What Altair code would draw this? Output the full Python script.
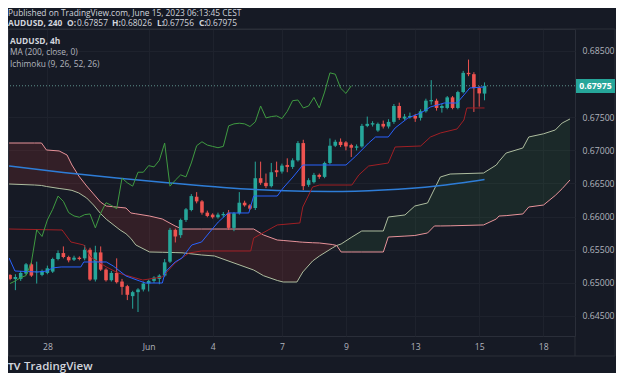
import altair as alt
import pandas as pd

# ---------------- data ----------------
opens = [
    0.6512, 0.6506, 0.6506, 0.6514, 0.6528, 0.6516, 0.6512, 0.6515, 0.6517, 0.6536,
    0.6545, 0.6539, 0.6535, 0.6538, 0.6537, 0.6550, 0.6505, 0.6546, 0.6520, 0.6504,
    0.6515, 0.6502, 0.6495, 0.6480, 0.6486, 0.6490, 0.6499, 0.6503, 0.6506, 0.6511,
    0.6532, 0.6580, 0.6572, 0.6595, 0.6610, 0.6630, 0.6623, 0.6606, 0.6603, 0.6599,
    0.6602, 0.6606, 0.6583, 0.6605, 0.6621, 0.6617, 0.6613, 0.6658, 0.6651, 0.6646,
    0.6670, 0.6668, 0.6678, 0.6675, 0.6685, 0.6711, 0.6648, 0.6652, 0.6663, 0.6660,
    0.6681, 0.6707, 0.6713, 0.6712, 0.6708, 0.6704, 0.6706, 0.6737, 0.6739, 0.6730,
    0.6740, 0.6736, 0.6743, 0.6767, 0.6748, 0.6750, 0.6752, 0.6749, 0.6759, 0.6774,
    0.6775, 0.6764, 0.6764, 0.6780, 0.6764, 0.6788, 0.6817, 0.6815, 0.6794, 0.67857,
]
highs = [
    0.6513, 0.6513, 0.6518, 0.6530, 0.6531, 0.6532, 0.6520, 0.6526, 0.6538, 0.6549,
    0.6555, 0.6541, 0.6541, 0.6540, 0.6557, 0.6553, 0.6556, 0.6555, 0.6522, 0.6518,
    0.6537, 0.6506, 0.6497, 0.6488, 0.6492, 0.6502, 0.6505, 0.6510, 0.6513, 0.6536,
    0.6583, 0.6582, 0.6597, 0.6613, 0.6634, 0.6637, 0.6625, 0.6609, 0.6605, 0.6606,
    0.6607, 0.6610, 0.6607, 0.6637, 0.6624, 0.6619, 0.6683, 0.6683, 0.6665, 0.6681,
    0.6683, 0.6680, 0.6688, 0.6688, 0.6714, 0.6716, 0.6658, 0.6666, 0.6665, 0.6683,
    0.6718, 0.6716, 0.6718, 0.6714, 0.6710, 0.6709, 0.6740, 0.6751, 0.6744, 0.6742,
    0.6745, 0.6747, 0.6770, 0.6772, 0.6755, 0.6757, 0.6755, 0.6762, 0.6778, 0.6806,
    0.6778, 0.6770, 0.6782, 0.6782, 0.6790, 0.6820, 0.6837, 0.6818, 0.6797, 0.68026,
]
lows = [
    0.6504, 0.6489, 0.6503, 0.6512, 0.6509, 0.6499, 0.6510, 0.6513, 0.6515, 0.6534,
    0.6537, 0.6531, 0.6533, 0.6534, 0.6534, 0.6503, 0.6502, 0.6518, 0.6502, 0.6502,
    0.6499, 0.6482, 0.6474, 0.6461, 0.6456, 0.6487, 0.6487, 0.6500, 0.6498, 0.6509,
    0.6530, 0.6561, 0.6568, 0.6592, 0.6608, 0.6620, 0.6603, 0.6599, 0.6597, 0.6597,
    0.6599, 0.6580, 0.6578, 0.6603, 0.6615, 0.6610, 0.6610, 0.6648, 0.6643, 0.6644,
    0.6660, 0.6665, 0.6667, 0.6672, 0.6683, 0.6640, 0.6645, 0.6650, 0.6657, 0.6658,
    0.6679, 0.6705, 0.6705, 0.6700, 0.6690, 0.6700, 0.6704, 0.6735, 0.6736, 0.6728,
    0.6733, 0.6733, 0.6740, 0.6746, 0.6746, 0.6748, 0.6743, 0.6745, 0.6757, 0.6769,
    0.6760, 0.6757, 0.6762, 0.6762, 0.6762, 0.6786, 0.6812, 0.6758, 0.6766, 0.67756,
]
closes = [
    0.6506, 0.6509, 0.6515, 0.6528, 0.6511, 0.6517, 0.6518, 0.6522, 0.6536, 0.6545,
    0.6539, 0.6534, 0.6538, 0.6536, 0.6550, 0.6505, 0.6546, 0.6520, 0.6504, 0.6515,
    0.6501, 0.6494, 0.6482, 0.6486, 0.6490, 0.6499, 0.6503, 0.6508, 0.6511, 0.6531,
    0.6580, 0.6570, 0.6595, 0.6611, 0.6631, 0.6623, 0.6606, 0.6601, 0.6599, 0.6603,
    0.6604, 0.6583, 0.6605, 0.6621, 0.6617, 0.6612, 0.6658, 0.6651, 0.6646, 0.6667,
    0.6667, 0.6677, 0.6675, 0.6685, 0.6711, 0.6646, 0.6655, 0.6663, 0.6660, 0.6681,
    0.6707, 0.6713, 0.6708, 0.6706, 0.6704, 0.6706, 0.6737, 0.6740, 0.6741, 0.6740,
    0.6736, 0.6743, 0.6767, 0.6749, 0.6751, 0.6752, 0.6748, 0.6759, 0.6775, 0.6776,
    0.6764, 0.6767, 0.6780, 0.6764, 0.6788, 0.6817, 0.6815, 0.6794, 0.6786, 0.67975,
]

ma_idx = [-0.18, 10, 20, 30, 40, 50, 60, 70, 80, 89]
ma_val = [0.66764, 0.66666, 0.66583, 0.66508, 0.66440, 0.66394, 0.66379, 0.66402, 0.66462, 0.66560]

tenkan_idx = [-0.18, 0.92, 5.16, 7.0, 7.92, 9.58, 13.27, 13.82, 18.06, 19.35, 21.74, 24.32,
              25.43, 28.56, 29.11, 30.96, 32.25, 34.09, 35.93, 37.78, 39.06, 40.91, 44.78,
              45.70, 50.12, 51.23, 53.07, 54.91, 63.02, 64.86, 67.26, 68.55, 70.94, 72.23,
              74.63, 77.02, 78.86, 81.44, 83.84, 85.13, 86.24, 89.0]
tenkan_val = [0.65376, 0.65179, 0.65164, 0.65179, 0.65225, 0.65240, 0.65240, 0.65315, 0.65315,
              0.65255, 0.65104, 0.65028, 0.64998, 0.64998, 0.65164, 0.65315, 0.65376, 0.65572,
              0.65617, 0.65798, 0.65919, 0.66055, 0.66055, 0.66311, 0.66311, 0.66432, 0.66598,
              0.66779, 0.66779, 0.66915, 0.67111, 0.67202, 0.67202, 0.67338, 0.67489, 0.67564,
              0.67655, 0.67715, 0.67715, 0.67836, 0.67942, 0.67957]

kijun_idx = [-0.18, 9.77, 11.42, 13.82, 15.11, 18.06, 20.27, 24.88, 28.56, 30.96, 33.54, 35.93,
             45.14, 45.70, 50.12, 54.36, 54.91, 56.75, 58.04, 64.12, 65.41, 67.26, 70.94, 72.23,
             77.02, 78.86, 80.71, 83.84, 85.13, 85.68, 89.0]
kijun_val = [0.65813, 0.65798, 0.65617, 0.65572, 0.65391, 0.65240, 0.65149, 0.65043, 0.65089,
             0.65300, 0.65451, 0.65481, 0.65481, 0.65677, 0.65874, 0.65904, 0.66145, 0.66447,
             0.66477, 0.66477, 0.66628, 0.66764, 0.66809, 0.67051, 0.67066, 0.67202, 0.67262,
             0.67323, 0.67458, 0.67640, 0.67640]

cloud_idx = [-0.18, 4.61, 5.90, 6.82, 9.21, 10.69, 11.61, 12.90, 14.37, 15.66, 16.95, 18.06,
             20.64, 21.74, 22.66, 23.59, 26.17, 28.56, 30.96, 32.25, 35.93, 38.33, 42.01, 45.70,
             47.54, 50.12, 51.23, 53.81, 54.36, 54.91, 56.75, 58.04, 60.44, 61.27, 62.10, 64.12,
             65.97, 70.02, 70.94, 74.07, 75.92, 78.31, 79.60, 80.71, 82.55, 88.81, 91.21, 91.71,
             93.05, 96.19, 97.29, 100.06, 102.27, 103.56, 105.03]
span_a = [0.66492, 0.66477, 0.66470, 0.66455, 0.66425, 0.66409, 0.66396, 0.66357, 0.66281,
          0.66175, 0.66049, 0.65960, 0.65798, 0.65742, 0.65671, 0.65572, 0.65466, 0.65462,
          0.65457, 0.65454, 0.65421, 0.65406, 0.65300, 0.65194, 0.65108, 0.65036, 0.65013,
          0.65013, 0.65089, 0.65164, 0.65330, 0.65406, 0.65526, 0.65564, 0.65587, 0.65692,
          0.65783, 0.65783, 0.65994, 0.66025, 0.66160, 0.66206, 0.66417, 0.66598, 0.66643,
          0.66658, 0.66779, 0.66834, 0.66960, 0.67036, 0.67202, 0.67250, 0.67308, 0.67413,
          0.67474]
span_b = [0.67111, 0.67111, 0.67111, 0.67006, 0.66991, 0.66930, 0.66779, 0.66613, 0.66462,
          0.66342, 0.66221, 0.66160, 0.66139, 0.66130, 0.66055, 0.66043, 0.66009, 0.65964,
          0.65859, 0.65813, 0.65813, 0.65813, 0.65813, 0.65813, 0.65723, 0.65647, 0.65640,
          0.65622, 0.65617, 0.65614, 0.65606, 0.65602, 0.65579, 0.65564, 0.65466, 0.65466,
          0.65466, 0.65466, 0.65692, 0.65706, 0.65715, 0.65753, 0.65859, 0.65859, 0.65861,
          0.65874, 0.65964, 0.66009, 0.66015, 0.66040, 0.66145, 0.66175, 0.66320, 0.66422,
          0.66553]
cloud_cross = 61.27
chikou_shift = 25

x_tick_pos = [7, 26, 38, 51, 63, 76, 88, 100]
x_tick_labels = ["28", "Jun", "4", "7", "9", "13", "15", "18"]
y_ticks = [0.645, 0.650, 0.655, 0.660, 0.665, 0.670, 0.675, 0.685]
last_price = 0.67975

header_1 = "Published on TradingView.com, June 15, 2023 06:13:45 CEST"
header_2 = [("AUDUSD, 240", 700), ("O:", 700), ("0.67857", 400),
            ("H:", 700), ("0.68026", 400), ("L:", 700), ("0.67756", 400),
            ("C:", 700), ("0.67975", 400)]
legend_lines = [("AUDUSD, 4h", 700), ("MA (200, close, 0)", 400),
                ("Ichimoku (9, 26, 52, 26)", 400)]

# ---------------- tables ----------------
n = len(closes)
candles = pd.DataFrame({"i": list(range(n)), "o": opens, "h": highs, "l": lows, "c": closes})
candles["dir"] = ["up" if c >= o else "down" for o, c in zip(opens, closes)]
ma_df = pd.DataFrame({"i": ma_idx, "p": ma_val})
tenkan_df = pd.DataFrame({"i": tenkan_idx, "p": tenkan_val})
kijun_df = pd.DataFrame({"i": kijun_idx, "p": kijun_val})
chikou_df = pd.DataFrame({"i": list(range(n - chikou_shift)), "p": closes[chikou_shift:]})
cloud_df = pd.DataFrame({"i": cloud_idx, "a": span_a, "b": span_b})
red_df = cloud_df[cloud_df["i"] <= cloud_cross]
green_df = cloud_df[cloud_df["i"] >= cloud_cross]
last_df = pd.DataFrame({"p": [last_price]})
one = pd.DataFrame({"k": [0]})

# ---------------- style ----------------
BG = "#161a25"
GRID = "#1e222d"
FRAME = "#2a2e39"
TXT = "#b2b5be"
TXT2 = "#d1d4dc"
UP = "#26a69a"
DOWN = "#ef5350"
FONT = "Open Sans"

xscale = alt.Scale(domain=[0.553, 105.03], nice=False, zero=False)
yscale = alt.Scale(domain=[0.64198, 0.68832], nice=False, zero=False)
label_expr = " : ".join(f"datum.value == {v} ? '{t}'" for v, t in zip(x_tick_pos, x_tick_labels)) + " : ''"
xaxis = alt.Axis(values=x_tick_pos, labelExpr=label_expr, grid=True, gridColor=GRID, domain=False,
                 ticks=False, tickSize=0, labelColor=TXT, labelFont=FONT, labelFontSize=8.6,
                 labelPadding=10, labelBaseline="middle", labelOverlap=False, title=None)
yaxis = alt.Axis(orient="right", values=y_ticks, format=".5f", grid=True, gridColor=GRID,
                 domain=False, ticks=False, tickSize=0, labelColor=TXT, labelFont=FONT,
                 labelFontSize=8.7, labelPadding=7, labelBaseline="middle", labelOverlap=False,
                 title=None)


def X(f):
    return alt.X(f"{f}:Q", scale=xscale, axis=xaxis)


def Y(f):
    return alt.Y(f"{f}:Q", scale=yscale, axis=yaxis)


cloud_red = alt.Chart(red_df).mark_area(color="#f44336", opacity=0.13).encode(x=X("i"), y=Y("a"), y2="b:Q")
cloud_green = alt.Chart(green_df).mark_area(color="#43a047", opacity=0.12).encode(x=X("i"), y=Y("a"), y2="b:Q")
line_a = alt.Chart(cloud_df).mark_line(color="#aebd9f", strokeWidth=1).encode(x=X("i"), y=Y("a"))
line_b = alt.Chart(cloud_df).mark_line(color="#e8939a", strokeWidth=1).encode(x=X("i"), y=Y("b"))
ma_line = alt.Chart(ma_df).mark_line(color="#2e7dd7", strokeWidth=1.5, interpolate="monotone").encode(x=X("i"), y=Y("p"))
kijun_line = alt.Chart(kijun_df).mark_line(color="#a01f24", strokeWidth=1).encode(x=X("i"), y=Y("p"))
tenkan_line = alt.Chart(tenkan_df).mark_line(color="#2962ff", strokeWidth=1).encode(x=X("i"), y=Y("p"))
chikou_line = alt.Chart(chikou_df).mark_line(color="#3f9a41", strokeWidth=1).encode(x=X("i"), y=Y("p"))
last_line = alt.Chart(last_df).mark_rule(color="#5d8f8b", strokeDash=[1, 2], strokeWidth=1).encode(y=Y("p"))

color = alt.Color("dir:N", scale=alt.Scale(domain=["up", "down"], range=[UP, DOWN]), legend=None)
wicks = alt.Chart(candles).mark_rule(strokeWidth=1).encode(x=X("i"), y=Y("l"), y2="h:Q", color=color)
bodies = alt.Chart(candles).mark_bar(size=3.6).encode(x=X("i"), y=Y("o"), y2="c:Q", color=color)


def txt(text, x, y, size=8.4, weight=400, col=TXT2, align="left", font=FONT):
    return alt.Chart(one).mark_text(text=text, align=align, baseline="middle", font=font,
                                    fontSize=size, fontWeight=weight, color=col).encode(
        x=alt.value(x), y=alt.value(y))


texts = [txt(header_1, 0, -16.5, 8.4)]
h2_x = [0, 59, 69, 104, 113, 149, 155, 191, 198]
for (t, w), xx in zip(header_2, h2_x):
    texts.append(txt(t, xx, -6.5, 8.4, w))
for k, (t, w) in enumerate(legend_lines):
    texts.append(txt(t, 2, 11.5 + 11.8 * k, 8.4, w, TXT2 if k == 0 else TXT))

frame = alt.Chart(one).mark_rect(filled=False, color=FRAME, strokeWidth=1).encode(
    x=alt.value(0.5), x2=alt.value(607), y=alt.value(0), y2=alt.value(327))
sep = alt.Chart(one).mark_rule(color=FRAME, strokeWidth=1).encode(
    x=alt.value(567), y=alt.value(307), y2=alt.value(327))
price_box = alt.Chart(one).mark_rect(color=UP).encode(
    x=alt.value(568), x2=alt.value(607), y=alt.value(50), y2=alt.value(64))
price_txt = txt("0.67975", 587.5, 57, 8.7, 700, "#ffffff", "center")
logo = txt("TV", 0, 338, 9.5, 900, TXT2, font="Lato")
logo_txt = txt("TradingView", 16, 338, 11.5, 600, TXT2)

chart = alt.layer(
    cloud_red, cloud_green, line_a, line_b, last_line, wicks, bodies,
    ma_line, kijun_line, tenkan_line, chikou_line,
    frame, sep, price_box, price_txt, logo, logo_txt, *texts,
).properties(
    width=567, height=307,
    padding={"left": 0, "top": 21, "right": 41, "bottom": 37},
    autosize=alt.AutoSizeParams(type="none"),
).configure(background=BG).configure_view(stroke=FRAME, strokeWidth=1)

chart.save("out.html", embed_options={"renderer": "svg", "actions": False})
